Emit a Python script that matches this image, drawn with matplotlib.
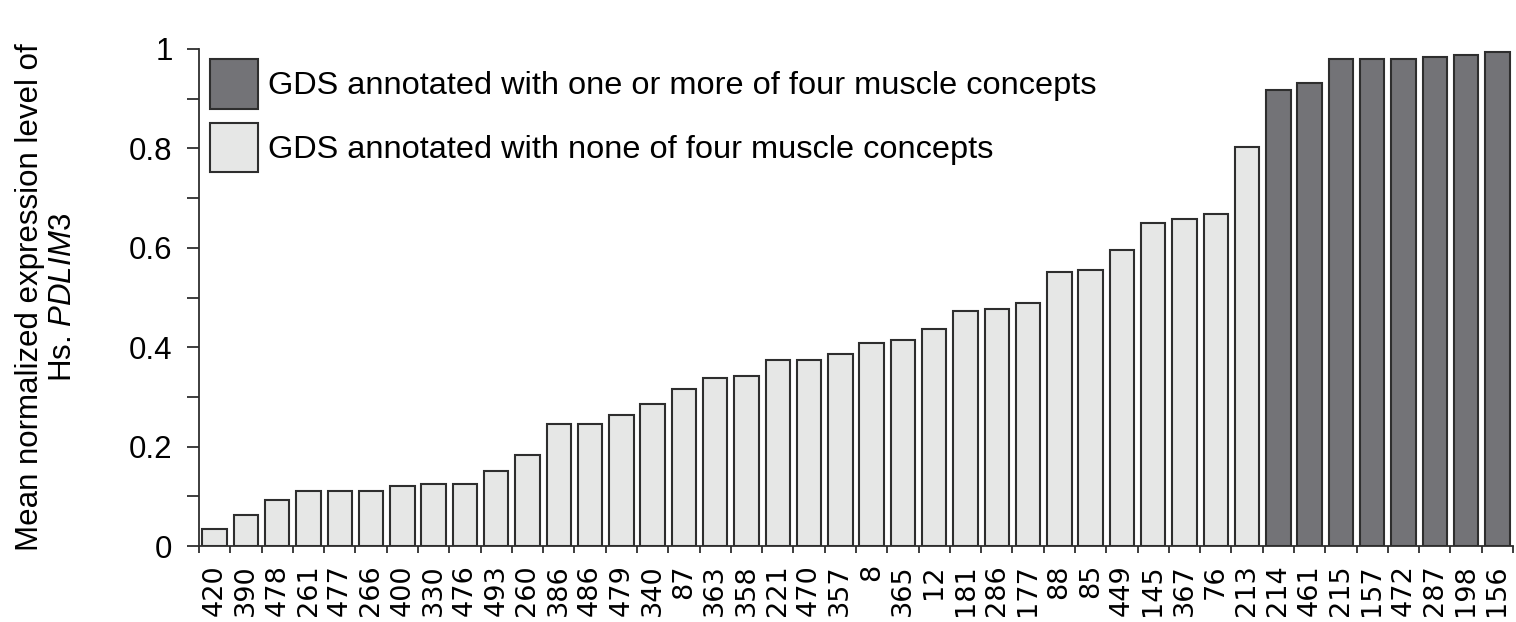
import matplotlib
matplotlib.use("Agg")
import matplotlib.pyplot as plt
from matplotlib.patches import Patch
from matplotlib.ticker import FixedLocator

plt.rcParams['font.family'] = ['Liberation Sans', 'DejaVu Sans']
plt.rcParams['mathtext.fontset'] = 'custom'
plt.rcParams['mathtext.rm'] = 'Liberation Sans'
plt.rcParams['mathtext.it'] = 'Liberation Sans:italic'

# GDS identifiers, sorted by expression
gds_ids = ["420", "390", "478", "261", "477", "266", "400", "330", "476", "493",
           "260", "386", "486", "479", "340", "87", "363", "358", "221", "470",
           "357", "8", "365", "12", "181", "286", "177", "88", "85", "449",
           "145", "367", "76", "213", "214", "461", "215", "157", "472", "287",
           "198", "156"]
expression = [0.035, 0.062, 0.093, 0.111, 0.111, 0.111, 0.120, 0.125, 0.125, 0.151,
              0.183, 0.245, 0.245, 0.263, 0.285, 0.316, 0.338, 0.342, 0.374, 0.374,
              0.387, 0.409, 0.414, 0.436, 0.472, 0.476, 0.489, 0.552, 0.556, 0.596,
              0.650, 0.658, 0.668, 0.802, 0.918, 0.931, 0.980, 0.980, 0.980, 0.984,
              0.988, 0.993]
muscle = [False] * 34 + [True] * 8

y_ticks = [0, 0.2, 0.4, 0.6, 0.8, 1.0]
y_tick_labels = ["0", "0.2", "0.4", "0.6", "0.8", "1"]

legend_labels = ["GDS annotated with one or more of four muscle concepts",
                 "GDS annotated with none of four muscle concepts"]

DARK = "#737377"
LIGHT = "#e6e7e6"
EDGE = "#2e2e2e"
FS = 22.5

fig = plt.figure(figsize=(15.16, 6.22), dpi=100)
ax = fig.add_axes([199 / 1516, 1 - 546 / 622, (1513 - 199) / 1516, (546 - 49) / 622])

x = list(range(len(gds_ids)))
colors = [DARK if m else LIGHT for m in muscle]
ax.bar(x, expression, width=0.78, color=colors, edgecolor=EDGE, linewidth=1.5)

ax.set_xlim(-0.5, len(gds_ids) - 0.5)
ax.set_ylim(0, 1)

for side in ("top", "right"):
    ax.spines[side].set_visible(False)
for side in ("left", "bottom"):
    ax.spines[side].set_linewidth(1.3)
    ax.spines[side].set_color(EDGE)

ax.set_xticks(x)
ax.set_xticklabels(gds_ids, rotation=90, fontsize=19.5, family=['DejaVu Sans'])
ax.xaxis.set_minor_locator(FixedLocator([i - 0.5 for i in range(len(gds_ids) + 1)]))
ax.tick_params(axis="x", which="major", length=0, pad=13)
ax.tick_params(axis="x", which="minor", length=5, width=1.3, color=EDGE)

ax.set_yticks(y_ticks)
ax.set_yticklabels(y_tick_labels, fontsize=FS)
ax.yaxis.set_minor_locator(FixedLocator([0.1, 0.3, 0.5, 0.7, 0.9]))
ax.tick_params(axis="y", which="both", length=9, width=1.3, color=EDGE, pad=10)

ax.set_ylabel("Mean normalized expression level of\nHs. $\\it{PDLIM3}$",
              fontsize=FS, linespacing=1.15)
ax.yaxis.set_label_coords(-0.092, 0.5)

handles = [Patch(facecolor=DARK, edgecolor=EDGE, linewidth=1.5),
           Patch(facecolor=LIGHT, edgecolor=EDGE, linewidth=1.5)]
ax.legend(handles, legend_labels, loc="upper left", frameon=False, fontsize=23.4,
          handlelength=1.48, handleheight=1.97, handletextpad=0.3,
          labelspacing=0.43, borderpad=0, borderaxespad=0,
          bbox_to_anchor=(210 / 1516, 1 - 59 / 622), bbox_transform=fig.transFigure)

fig.savefig("out.png", dpi=100)
